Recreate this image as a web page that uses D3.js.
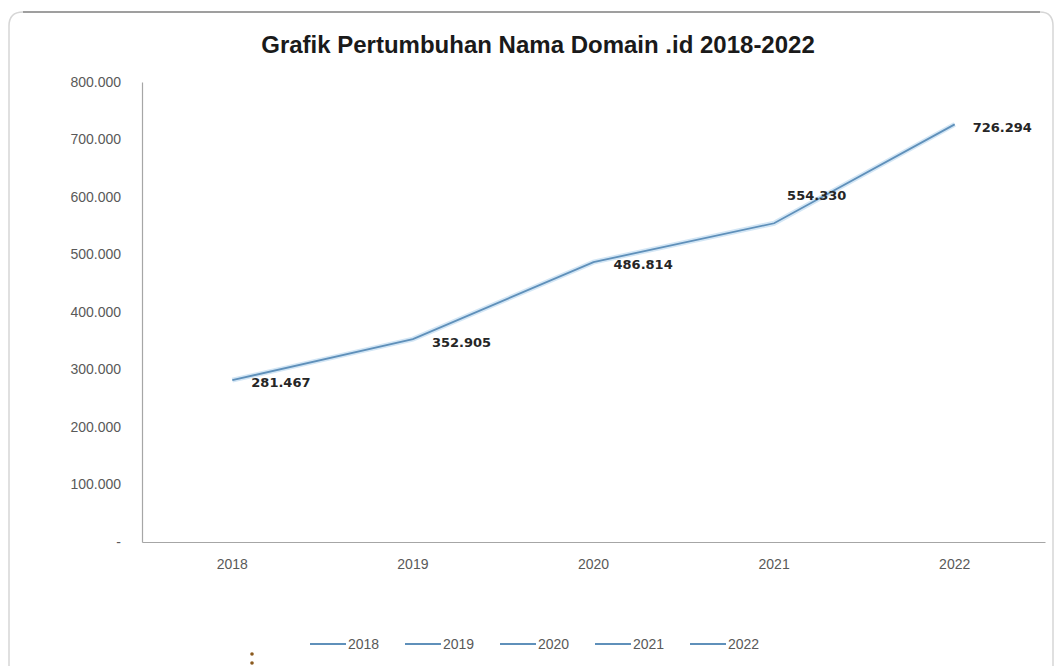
<!DOCTYPE html>
<html>
<head>
<meta charset="utf-8">
<script src="https://cdn.jsdelivr.net/npm/d3@7"></script>
<style>
  html, body { margin: 0; padding: 0; background: #fff; }
  svg { display: block; }
</style>
</head>
<body>
<svg width="1057" height="666"></svg>
<script>
var years = ["2018", "2019", "2020", "2021", "2022"];
var domains = [281467, 352905, 486814, 554330, 726294];
var yTicks = [0, 100000, 200000, 300000, 400000, 500000, 600000, 700000, 800000];
// label placement around each point (dx, dy)
var labelOffsets = [[19, 7], [19, 8], [20, 7], [13, -23], [18, 8]];

var width = 1057, height = 666;
var margin = {top: 82, right: 12, bottom: 124, left: 142};
var lineColor = "#5f90ba";
var axisColor = "#a6a6a6";
var textGray = "#595959";
var fontMain = "'Liberation Sans', Arial, sans-serif";

var svg = d3.select("svg");

// rounded frame
svg.append("path")
  .attr("d", "M 9 680 L 9 26 Q 9 12 23 12 L 1040 12 Q 1053 12 1053 26 L 1053 680")
  .attr("fill", "none")
  .attr("stroke", "#d6d6d6")
  .attr("stroke-width", 1.5);
svg.append("line")
  .attr("x1", 23).attr("x2", 1040).attr("y1", 12).attr("y2", 12)
  .attr("stroke", "#8a8a8a").attr("stroke-width", 1.5);

var x = d3.scaleBand()
  .domain(years)
  .range([margin.left, width - margin.right]);

var y = d3.scaleLinear()
  .domain([0, 800000])
  .range([height - margin.bottom, margin.top]);

var fmt = function(v) {
  return v === 0 ? "-" : d3.format(",")(v).replace(/,/g, ".");
};

// title
svg.append("text")
  .attr("x", 538)
  .attr("y", 53)
  .attr("text-anchor", "middle")
  .style("font-family", fontMain)
  .style("font-weight", "bold")
  .style("font-size", "24px")
  .style("fill", "#1a1a1a")
  .text("Grafik Pertumbuhan Nama Domain .id 2018-2022");

// y axis
var yAxis = svg.append("g")
  .attr("transform", "translate(" + margin.left + ",0)")
  .call(d3.axisLeft(y).tickValues(yTicks).tickFormat(fmt).tickSize(0).tickPadding(21));
yAxis.select(".domain").attr("stroke", axisColor).attr("stroke-width", 1.2);
yAxis.selectAll("text")
  .style("font-family", fontMain)
  .style("font-size", "14px")
  .style("fill", textGray);

// x axis
var xAxis = svg.append("g")
  .attr("transform", "translate(0," + y(0) + ")")
  .call(d3.axisBottom(x).tickSize(0).tickPadding(17));
xAxis.select(".domain").attr("stroke", axisColor).attr("stroke-width", 1.2);
xAxis.selectAll("text")
  .style("font-family", fontMain)
  .style("font-size", "14px")
  .style("fill", textGray);

var cx = function(d, i) { return x(years[i]) + x.bandwidth() / 2; };

var line = d3.line()
  .x(cx)
  .y(function(d) { return y(d); });

// soft halo under the line
svg.append("path")
  .datum(domains)
  .attr("fill", "none")
  .attr("stroke", "#d3e6f5")
  .attr("stroke-width", 5)
  .attr("d", line);
svg.append("path")
  .datum(domains)
  .attr("fill", "none")
  .attr("stroke", lineColor)
  .attr("stroke-width", 1.8)
  .attr("d", line);

// data labels
svg.append("g").selectAll("text")
  .data(domains)
  .enter().append("text")
  .attr("x", function(d, i) { return cx(d, i) + labelOffsets[i][0]; })
  .attr("y", function(d, i) { return y(d) + labelOffsets[i][1]; })
  .style("font-family", "'DejaVu Sans', sans-serif")
  .style("font-weight", "bold")
  .style("font-size", "13px")
  .style("fill", "#262626")
  .text(fmt);

// legend
var legend = svg.append("g").attr("transform", "translate(310,644)");
var keys = legend.selectAll("g")
  .data(years)
  .enter().append("g")
  .attr("transform", function(d, i) { return "translate(" + (i * 95) + ",0)"; });
keys.append("line")
  .attr("x1", 0).attr("x2", 36).attr("y1", 0).attr("y2", 0)
  .attr("stroke", lineColor).attr("stroke-width", 2);
keys.append("text")
  .attr("x", 38)
  .attr("y", 5)
  .style("font-family", fontMain)
  .style("font-size", "14px")
  .style("fill", textGray)
  .text(function(d) { return d; });

// small stray marks seen in the picture
svg.append("g").selectAll("circle")
  .data([654, 663])
  .enter().append("circle")
  .attr("cx", 252).attr("cy", function(d) { return d; })
  .attr("r", 1.8).attr("fill", "#8b5a1e");
</script>
</body>
</html>
